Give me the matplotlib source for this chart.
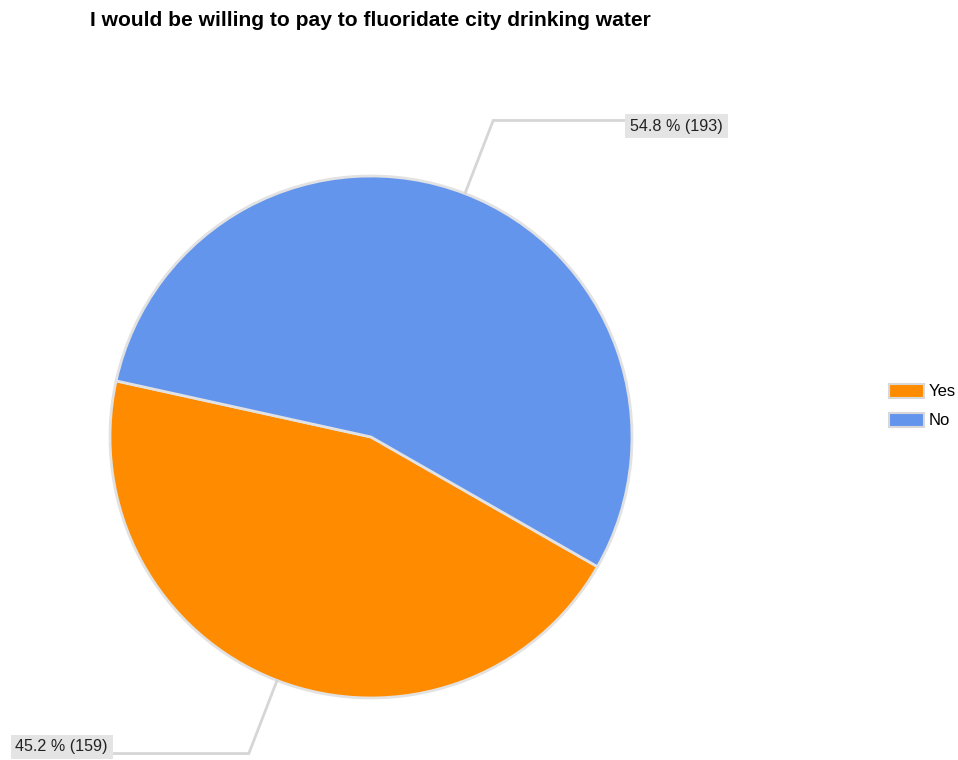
import numpy as np
import matplotlib.pyplot as plt
from matplotlib.patches import Patch

plt.rcParams['font.family'] = ['Liberation Sans', 'DejaVu Sans']

# survey answers
labels = ['Yes', 'No']
counts = [159, 193]
percents = [45.2, 54.8]
colors = ['#ff8c00', '#6495ed']
title = 'I would be willing to pay to fluoridate city drinking water'

W, H = 958, 760
cx, cy, R = 371, H - 437, 261

fig = plt.figure(figsize=(W / 100, H / 100), dpi=100)
ax = fig.add_axes([0, 0, 1, 1])

wedges, _ = ax.pie(counts, colors=colors, startangle=-29.8, counterclock=False,
                   center=(cx, cy), radius=R, frame=True,
                   wedgeprops=dict(edgecolor='#e2e2e2', linewidth=2))
ax.set_xlim(0, W)
ax.set_ylim(0, H)
ax.set_aspect('equal')
ax.axis('off')

# leader lines + value boxes (box edge x, box centre y)
label_x = [113, 625]
label_y = [H - 747, H - 126]
for w, p, n, lx, ly in zip(wedges, percents, counts, label_x, label_y):
    mid = np.deg2rad((w.theta1 + w.theta2) / 2)
    x0, y0 = cx + R * np.cos(mid), cy + R * np.sin(mid)
    x1, y1 = cx + 1.3 * R * np.cos(mid), cy + 1.3 * R * np.sin(mid)
    ax.plot([x0, x1, lx], [y0, y1, y1], color='#d6d6d6', lw=2,
            solid_joinstyle='miter', zorder=1)
    ha = 'left' if lx > cx else 'right'
    ax.text(lx + (5 if ha == 'left' else -5), ly, f'{p} % ({n})',
            ha=ha, va='center', fontsize=11.6, color='#222222',
            bbox=dict(boxstyle='square,pad=0.3', fc='#e4e4e4', ec='none'))

fig.text(90 / W, 1 - 20 / H, title, fontsize=15.1, fontweight='bold',
         ha='left', va='center', color='black')

handles = [Patch(facecolor=c, edgecolor='#d8d8d8', linewidth=1.5) for c in colors]
fig.legend(handles, labels, loc='center left', bbox_to_anchor=(874 / W, 1 - 406 / H),
           frameon=False, fontsize=12, handlelength=2.1, handleheight=0.9,
           labelspacing=0.8, handletextpad=0.3, borderaxespad=0.5)

fig.savefig('out.png', dpi=100, facecolor='white')
